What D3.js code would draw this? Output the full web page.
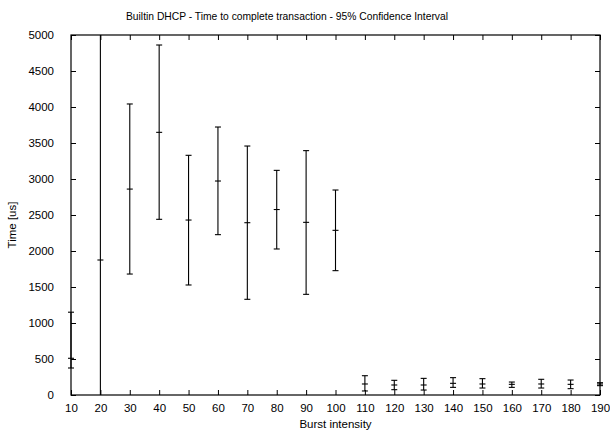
<!DOCTYPE html>
<html>
<head>
<meta charset="utf-8">
<script src="https://cdn.jsdelivr.net/npm/d3@7"></script>
<style>
  body { margin: 0; background: #fff; }
  text { font-family: "Liberation Sans", Helvetica, Arial, sans-serif; font-size: 11.5px; fill: #000; }
</style>
</head>
<body>
<div id="my_dataviz"></div>
<script>
// data
const bursts = [10, 20, 30, 40, 50, 60, 70, 80, 90, 100, 110, 120, 130, 140, 150, 160, 170, 180, 190];
const meanTime = [510, 1875, 2860, 3648, 2430, 2972, 2393, 2576, 2398, 2287, 153, 139, 139, 162, 153, 148, 153, 148, 153];
const lowTime  = [375, -1500, 1680, 2440, 1528, 2227, 1329, 2028, 1398, 1727, 56, 74, 69, 106, 97, 106, 97, 88, 130];
const highTime = [1150, 5400, 4042, 4861, 3329, 3722, 3458, 3120, 3394, 2847, 268, 204, 231, 241, 227, 180, 218, 208, 171];
const yTicks = [0, 500, 1000, 1500, 2000, 2500, 3000, 3500, 4000, 4500, 5000];

const margin = {top: 35, right: 10, bottom: 42, left: 71},
    width = 610 - margin.left - margin.right,
    height = 437 - margin.top - margin.bottom;

const svg = d3.select("#my_dataviz")
    .append("svg")
        .attr("width", 610)
        .attr("height", 437)
    .append("g")
        .attr("transform", `translate(${margin.left}, ${margin.top})`);

const x = d3.scaleLinear().domain([10, 190]).range([0, width]);
const y = d3.scaleLinear().domain([0, 5000]).range([height, 0]);

const tickLen = 5;

// axes, gnuplot style: ticks inside, mirrored
svg.append("g")
    .attr("transform", `translate(0, ${height})`)
    .call(d3.axisBottom(x).tickValues(bursts).tickFormat(d3.format("d")).tickSizeInner(-tickLen).tickSizeOuter(0).tickPadding(9))
    .call(g => g.select(".domain").remove());
svg.append("g")
    .call(d3.axisTop(x).tickValues(bursts).tickSizeInner(-tickLen).tickSizeOuter(0).tickFormat(""))
    .call(g => g.select(".domain").remove());
svg.append("g")
    .call(d3.axisLeft(y).tickValues(yTicks).tickFormat(d3.format("d")).tickSizeInner(-tickLen).tickSizeOuter(0).tickPadding(17))
    .call(g => g.select(".domain").remove());
svg.append("g")
    .attr("transform", `translate(${width}, 0)`)
    .call(d3.axisRight(y).tickValues(yTicks).tickSizeInner(-tickLen).tickSizeOuter(0).tickFormat(""))
    .call(g => g.select(".domain").remove());
svg.selectAll(".tick text").style("font-size", "11.5px").attr("font-family", null);
svg.selectAll(".tick line").attr("stroke", "#000");

svg.append("rect")
    .attr("width", width).attr("height", height)
    .attr("fill", "none").attr("stroke", "#000").attr("stroke-width", 1.2);

svg.append("clipPath").attr("id", "clip")
  .append("rect").attr("x", -6).attr("y", 0).attr("width", width + 12).attr("height", height);

const rows = bursts.map((b, i) => ({b: b, m: meanTime[i], lo: lowTime[i], hi: highTime[i]}));
const bars = svg.append("g").attr("clip-path", "url(#clip)")
    .selectAll("g").data(rows).join("g")
    .attr("stroke", "#000").attr("stroke-width", 1.1);

bars.append("line")
    .attr("x1", d => x(d.b)).attr("x2", d => x(d.b))
    .attr("y1", d => y(d.lo)).attr("y2", d => y(d.hi));
["lo", "hi", "m"].forEach(k => {
    bars.append("line")
        .attr("x1", d => x(d.b) - 3).attr("x2", d => x(d.b) + 3)
        .attr("y1", d => y(d[k])).attr("y2", d => y(d[k]));
});

// labels
svg.append("text")
    .attr("x", 287 - margin.left).attr("y", 20 - margin.top)
    .attr("text-anchor", "middle")
    .style("font-size", "10.3px")
    .text("Builtin DHCP - Time to complete transaction - 95% Confidence Interval");
svg.append("text")
    .attr("x", width / 2).attr("y", 428 - margin.top)
    .attr("text-anchor", "middle")
    .text("Burst intensity");
svg.append("text")
    .attr("transform", `translate(${16 - margin.left}, ${225 - margin.top}) rotate(-90)`)
    .attr("text-anchor", "middle")
    .text("Time [us]");
</script>
</body>
</html>
